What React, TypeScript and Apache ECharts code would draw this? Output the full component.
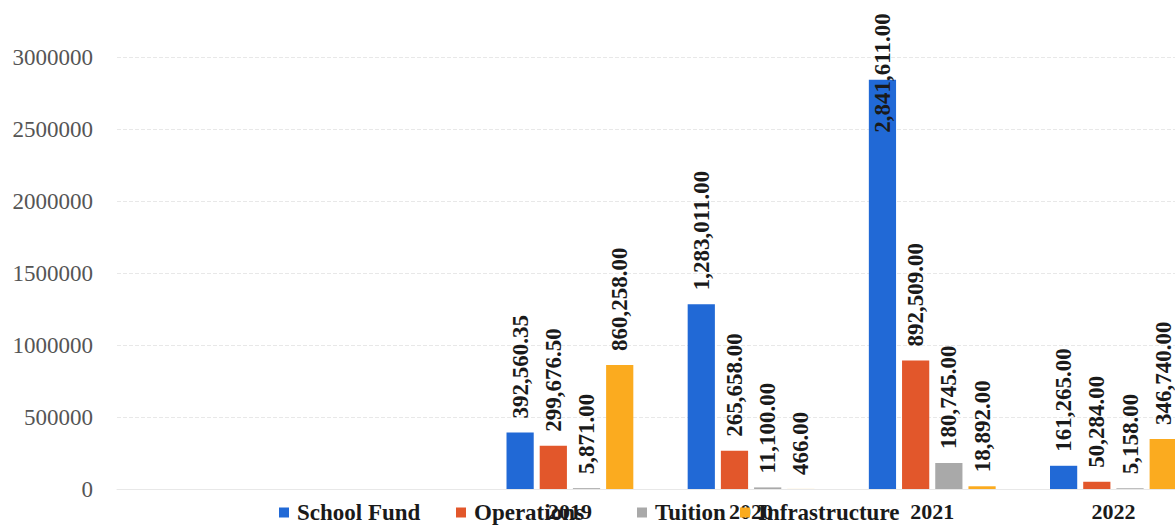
import React, { useEffect, useRef } from "react";
import * as echarts from "echarts";

const categories = [" ", "  ", "2019", "2020", "2021", "2022"];
const schoolFund = [null, null, 392560.35, 1283011, 2841611, 161265];
const operations = [null, null, 299676.5, 265658, 892509, 50284];
const tuition = [null, null, 5871, 11100, 180745, 5158];
const infrastructure = [null, null, 860258, 466, 18892, 346740];
const seriesNames = ["School Fund", "Operations", "Tuition", "Infrastructure"];
const yTicks = { min: 0, max: 3000000, interval: 500000 };

const FONT = "'Liberation Serif', 'Times New Roman', serif";
const colors = ["#2169d6", "#e2572b", "#a9a9a9", "#fbab1f"];
const legendLefts = [274, 451, 632, 735];

const fmt = (v: number) =>
  v.toLocaleString("en-US", { minimumFractionDigits: 2, maximumFractionDigits: 2 });

export default function App() {
  const ref = useRef<HTMLDivElement>(null);
  useEffect(() => {
    if (!ref.current) return;
    const chart = echarts.init(ref.current, null, { renderer: "svg" });
    const baseLabel = {
      show: true,
      rotate: 90,
      position: ["50%", -14] as any,
      align: "left",
      verticalAlign: "middle",
      fontFamily: FONT,
      fontWeight: "bold",
      fontSize: 23,
      color: "#1a1a1a",
      formatter: (p: any) => fmt(p.value),
    };
    const all = [schoolFund, operations, tuition, infrastructure];
    const series = all.map((arr, si) => ({
      name: seriesNames[si],
      type: "bar",
      barGap: "22%",
      barCategoryGap: "30%",
      itemStyle: { color: colors[si] },
      label: baseLabel,
      data: arr.map((v, i) => {
        if (v === null) return null;
        // tallest bar's label is pushed down into the bar in the reference
        if (si === 0 && i === 4) {
          return { value: v, label: { position: ["50%", 53] } };
        }
        return v;
      }),
    }));
    const legends = seriesNames.map((n, i) => ({
      data: [n],
      left: legendLefts[i],
      top: 496,
      icon: "rect",
      itemWidth: 10,
      itemHeight: 10,
      textStyle: {
        fontFamily: FONT,
        fontWeight: "bold",
        fontSize: 23,
        color: "#1a1a1a",
        padding: [0, 0, 0, 3],
      },
    }));
    chart.setOption({
      animation: false,
      color: colors,
      grid: { left: 117, right: 0, top: 57, bottom: 37, containLabel: false },
      legend: legends,
      xAxis: {
        type: "category",
        data: categories,
        axisLine: { show: true, lineStyle: { color: "#e8e8e8" } },
        axisTick: { show: false },
        axisLabel: {
          fontFamily: FONT,
          fontWeight: "bold",
          fontSize: 22,
          color: "#1a1a1a",
          margin: 11,
        },
      },
      yAxis: {
        type: "value",
        min: yTicks.min,
        max: yTicks.max,
        interval: yTicks.interval,
        axisLine: { show: false },
        axisTick: { show: false },
        splitLine: { lineStyle: { color: "#e8e8e8", type: "dashed" } },
        axisLabel: {
          fontFamily: FONT,
          fontSize: 23,
          color: "#555555",
          margin: 24,
          formatter: (v: number) => String(v),
        },
      },
      series,
    });
    return () => chart.dispose();
  }, []);
  return (
    <div style={{ position: "fixed", left: 0, top: 0, width: 1175, height: 526, overflow: "hidden", background: "#fff" }}>
      <div ref={ref} style={{ width: 1204, height: 526 }} />
    </div>
  );
}
